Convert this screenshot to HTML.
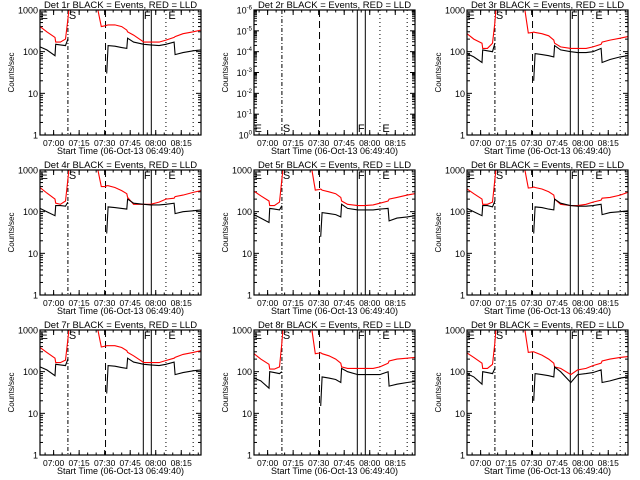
<!DOCTYPE html>
<html><head><meta charset="utf-8"><style>
html,body{margin:0;padding:0;background:#fff;}
svg{display:block;font-family:"Liberation Sans",sans-serif;}
</style></head><body>
<svg id="chart" width="640" height="480" viewBox="0 0 640 480" xmlns="http://www.w3.org/2000/svg">
<rect x="0" y="0" width="640" height="480" fill="#fff"/>
</svg>
<script>
// time in minutes after 06:52 (x domain 0..94.6)
const times = [0,4,8.8,9.2,12,15,16.4,17,20,25,30,34,36,38.5,39.2,40,44,48,51,51.5,55,61,65,70,74,78.8,79.4,84,90,94.5];
const N = null;
const black1 = [130,110,80,150,145,140,200,N,N,N,N,N,N,N,30,140,135,125,120,210,170,150,145,140,150,170,85,95,105,110];
const red1   = [400,300,220,170,170,200,600,1000,2000,2000,2000,1000,400,420,430,440,440,400,330,300,250,170,170,170,190,220,230,270,300,330];
const black3 = [90,75,55,110,105,100,160,N,N,N,N,N,N,N,20,90,85,80,75,140,110,100,95,95,100,120,55,65,75,80];
const red3   = [270,200,160,120,120,160,500,1000,2000,2000,2000,1000,280,290,295,290,270,240,190,160,130,120,120,120,130,150,170,190,210,230];
const black4 = [120,100,80,140,140,135,170,N,N,N,N,N,N,N,30,130,125,120,115,200,160,150,145,145,150,160,90,100,105,110];
const red4   = [380,280,200,160,150,180,600,1000,2000,2000,2000,1000,400,400,420,420,380,320,270,220,150,150,150,170,200,210,230,250,290,320];
const black5 = [85,70,55,120,115,110,140,N,N,N,N,N,N,N,25,95,90,85,75,150,120,110,110,110,115,120,60,70,75,80];
const red5   = [310,240,180,140,140,170,600,1000,2000,2000,2000,1000,330,340,350,330,300,270,220,180,150,140,140,145,160,180,200,220,250,270];
const black6 = [120,100,80,140,140,130,180,N,N,N,N,N,N,N,30,130,125,115,110,200,160,140,135,135,140,150,85,95,100,105];
const red6   = [350,270,200,150,150,170,600,1000,2000,2000,2000,1000,370,380,390,380,350,300,250,200,150,140,140,150,170,190,210,220,250,290];
const black7 = [130,110,80,150,145,140,200,N,N,N,N,N,N,N,30,140,135,125,120,210,170,150,145,140,150,170,85,95,105,110];
const red7   = [380,290,210,165,165,190,600,1000,2000,2000,2000,1000,390,410,420,420,420,380,320,290,240,165,165,165,185,210,220,260,290,320];
const black8 = [70,60,40,100,95,90,100,N,N,N,N,N,N,N,15,75,70,65,55,120,100,85,85,85,85,100,45,50,55,58];
const red8   = [270,200,150,115,115,130,500,1000,2000,2000,2000,1000,270,280,285,270,240,200,160,130,120,120,120,120,130,160,180,200,210,220];
const black9 = [90,75,50,100,95,90,120,N,N,N,N,N,N,N,20,90,85,80,75,130,100,55,85,90,95,110,55,60,70,75];
const red9   = [280,220,160,120,120,150,500,1000,2000,2000,2000,1000,290,300,300,290,250,200,160,130,120,85,110,120,140,160,180,200,220,230];
const blackSeries = [black1,null,black3,black4,black5,black6,black7,black8,black9];
const redSeries = [red1,null,red3,red4,red5,red6,red7,red8,red9];
const xTickLabels = ["07:00","07:15","07:30","07:45","08:00","08:15"];
const xTickTimes = [8,23,38,53,68,83];
const markerTimes = {S:16.4, dash:38.5, F1:60.7, F2:65.4, E1:74.0, E2:90.0};

const NS="http://www.w3.org/2000/svg";
const svg=document.getElementById('chart');
function mk(tag,attrs,parent){const e=document.createElementNS(NS,tag);for(const k in attrs)e.setAttribute(k,attrs[k]);(parent||svg).appendChild(e);return e;}

const PW=161, PH=125;
const lefts=[40,254,467], tops=[10,170,330];
for(let p=0;p<9;p++){
  const L=lefts[p%3], T=tops[Math.floor(p/3)];
  const g=mk('g',{});
  
  
  const xs=t=>L+t*PW/94.6;
  const isP2=(p===1);
  const ys=v=>isP2? T+PH-(Math.log10(v)+0)*PH/6 : T+PH-Math.log10(v)*PH/3;
  const cp=mk('clipPath',{id:'c'+p},g);mk('rect',{x:L,y:T,width:PW,height:PH},cp);
  const ti=mk('text',{x:L+PW/2,y:T-2,'text-anchor':'middle','font-size':'9.5'},g);
  ti.textContent='Det '+(p+1)+'r BLACK = Events, RED = LLD';
  
  
  const yl=mk('text',{x:0,y:0,'text-anchor':'middle','font-size':'8',transform:`translate(${L-26},${T+PH/2}) rotate(-90)`},g);
  yl.textContent='Counts/sec';
  
  
  const decs=isP2?[0,1,2,3,4,5,6]:[0,1,2,3];
  decs.forEach(d=>{
    const y=isP2? T+PH-d*PH/6 : T+PH-d*PH/3;
    mk('line',{x1:L,x2:L+5,y1:y,y2:y,stroke:'#000','stroke-width':1},g);
    mk('line',{x1:L+PW-5,x2:L+PW,y1:y,y2:y,stroke:'#000','stroke-width':1},g);
    const tl=mk('text',{x:L-2,y:y+3.5,'text-anchor':'end','font-size':'9'},g);
    if(isP2){ tl.textContent='10'; const s=mk('tspan',{dy:-4,'font-size':'6'},tl); s.textContent=(d===0?'0':'-'+d); }
    else tl.textContent=['1','10','100','1000'][d];
    
    
    const dh=isP2?PH/6:PH/3;
    if(d<decs[decs.length-1]) for(let m=2;m<10;m++){
      const ym=y-Math.log10(m)*dh;
      mk('line',{x1:L,x2:L+3,y1:ym,y2:ym,stroke:'#000','stroke-width':1},g);
      mk('line',{x1:L+PW-3,x2:L+PW,y1:ym,y2:ym,stroke:'#000','stroke-width':1},g);
    }
  });
  xTickTimes.forEach((t,i)=>{
    const x=xs(t);
    mk('line',{x1:x,x2:x,y1:T+PH,y2:T+PH-5,stroke:'#000'},g);
    mk('line',{x1:x,x2:x,y1:T,y2:T+5,stroke:'#000'},g);
    const xl=mk('text',{x:x,y:T+PH+11,'text-anchor':'middle','font-size':'8.5'},g);
    xl.textContent=xTickLabels[i];
    
    
  });
  for(let t=3;t<94;t+=5){const x=xs(t);
    mk('line',{x1:x,x2:x,y1:T+PH,y2:T+PH-2.5,stroke:'#000'},g);
    mk('line',{x1:x,x2:x,y1:T,y2:T+2.5,stroke:'#000'},g);}
  const xt=mk('text',{x:L+PW/2,y:T+PH+19,'text-anchor':'middle','font-size':'9'},g);
  xt.textContent='Start Time (06-Oct-13 06:49:40)';
  
  
  const vl=(t,dash,w)=>mk('line',{x1:xs(t),x2:xs(t),y1:T,y2:T+PH,stroke:'#000','stroke-width':w||1,'stroke-dasharray':dash},g);
  vl(markerTimes.S,'4,2,1,2');
  vl(markerTimes.dash,'7,4');
  vl(markerTimes.F1,'none');
  vl(markerTimes.F2,'none');
  vl(markerTimes.E1,'1,3');
  vl(markerTimes.E2,'1,3');
  const ly=isP2?T+PH-3:T+9;
  [['E',0.3],['S',markerTimes.S+0.6],['F',markerTimes.F1+0.3],['E',markerTimes.E1+1.4]].forEach(([s,t])=>{
    const lt=mk('text',{x:xs(t),y:ly,'font-size':'11','font-weight':'normal'},g);
    lt.textContent=s;
    
    
  });
  const path=(arr,color,name)=>{
    let d='',pen=false;
    arr.forEach((v,i)=>{ if(v==null){pen=false;return;} d+=(pen?'L':'M')+xs(times[i]).toFixed(1)+','+ys(v).toFixed(1); pen=true;});
    const e=mk('path',{d:d,fill:'none',stroke:color,'stroke-width':1.1,'clip-path':'url(#c'+p+')'},g);
    
    
  };
  if(redSeries[p]) path(redSeries[p],'#ff0000','red-lld-line');
  if(blackSeries[p]) path(blackSeries[p],'#000','black-events-line');
  const fr=mk('rect',{x:L,y:T,width:PW,height:PH,fill:'none',stroke:'#000','stroke-width':1.2},g);
  
  
}
</script>
</body></html>
